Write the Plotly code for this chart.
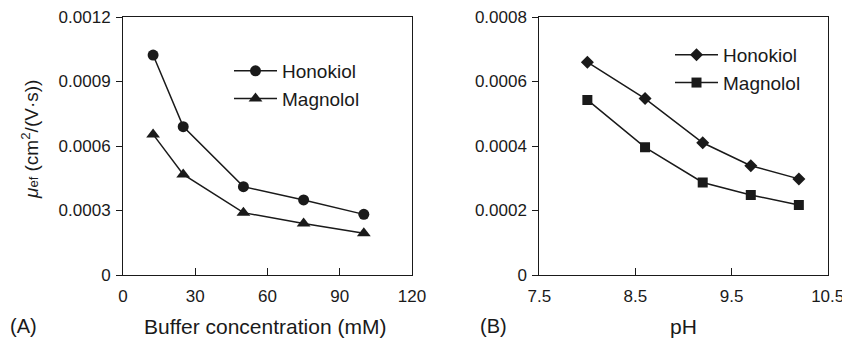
import plotly.graph_objects as go

# Panel A data
conc = [12.5, 25, 50, 75, 100]
honokiol_conc = [0.001023, 0.00069, 0.000411, 0.000349, 0.000282]
magnolol_conc = [0.000654, 0.000468, 0.00029, 0.00024, 0.000194]

# Panel B data
ph = [8.0, 8.6, 9.2, 9.7, 10.2]
honokiol_ph = [0.00066, 0.000547, 0.00041, 0.000339, 0.000298]
magnolol_ph = [0.000543, 0.000396, 0.000287, 0.000248, 0.000217]

xticks_a = [0, 30, 60, 90, 120]
yticks_a = [0, 0.0003, 0.0006, 0.0009, 0.0012]
yticklabels_a = ["0", "0.0003", "0.0006", "0.0009", "0.0012"]
xticks_b = [7.5, 8.5, 9.5, 10.5]
yticks_b = [0, 0.0002, 0.0004, 0.0006, 0.0008]
yticklabels_b = ["0", "0.0002", "0.0004", "0.0006", "0.0008"]

FONT = "Liberation Sans, Arial, sans-serif"
INK = "#1a1a1a"
OFF = 8  # default page body margin
W, H = 850 - OFF, 339 - OFF


def px(x):
    return (x - OFF) / W


def py(y):
    return 1 - (y - OFF) / H


fig = go.Figure()
line = dict(color=INK, width=1.5)
fig.add_trace(go.Scatter(x=conc, y=honokiol_conc, name="Honokiol", mode="lines+markers",
                         line=line, marker=dict(symbol="circle", size=11, color=INK),
                         xaxis="x", yaxis="y", legend="legend", legendgroup="a1"))
fig.add_trace(go.Scatter(x=conc, y=magnolol_conc, name="Magnolol", mode="lines+markers",
                         line=line, marker=dict(symbol="triangle-up", size=12, color=INK),
                         xaxis="x", yaxis="y", legend="legend", legendgroup="a2"))
fig.add_trace(go.Scatter(x=ph, y=honokiol_ph, name="Honokiol", mode="lines+markers",
                         line=line, marker=dict(symbol="diamond", size=10, color=INK),
                         xaxis="x2", yaxis="y2", legend="legend2", legendgroup="b1"))
fig.add_trace(go.Scatter(x=ph, y=magnolol_ph, name="Magnolol", mode="lines+markers",
                         line=line, marker=dict(symbol="square", size=10, color=INK),
                         xaxis="x2", yaxis="y2", legend="legend2", legendgroup="b2"))

ydom = [py(275), py(17)]
EPS = 1.00001  # keep top tick inside the range despite float rounding
common_x = dict(showline=True, linecolor=INK, linewidth=1, mirror=True, ticks="inside",
                ticklen=7, tickcolor=INK, showgrid=False, zeroline=False,
                ticklabelstandoff=6, ticklabeloverflow="allow",
                tickfont=dict(family=FONT, size=17, color=INK))
common_y = dict(showline=True, linecolor=INK, linewidth=1, mirror=True, ticks="outside",
                ticklen=6, tickcolor=INK, showgrid=False, zeroline=False,
                ticklabelstandoff=2, ticklabeloverflow="allow",
                tickfont=dict(family=FONT, size=17, color=INK))

legend_common = dict(xanchor="left", yanchor="top", bgcolor="rgba(0,0,0,0)",
                     font=dict(family=FONT, size=19, color=INK),
                     traceorder="grouped", tracegroupgap=0, itemwidth=43)

fig.update_layout(
    width=W, height=H,
    margin=dict(l=0, r=0, t=0, b=0, autoexpand=False),
    paper_bgcolor="white", plot_bgcolor="white",
    font=dict(family=FONT, size=16, color=INK),
    xaxis=dict(domain=[px(123), px(412)], range=[0, 120 * EPS], tickvals=xticks_a,
               anchor="y", **common_x),
    yaxis=dict(domain=ydom, range=[0, 0.0012 * EPS], tickvals=yticks_a, ticktext=yticklabels_a,
               anchor="x", **common_y),
    xaxis2=dict(domain=[px(539.3), px(827.7)], range=[7.5, 10.5 * EPS], tickvals=xticks_b,
                anchor="y2", **common_x),
    yaxis2=dict(domain=ydom, range=[0, 0.0008 * EPS], tickvals=yticks_b, ticktext=yticklabels_b,
                anchor="x2", **common_y),
    legend=dict(x=px(229), y=py(52), **legend_common),
    legend2=dict(x=px(670), y=py(36), **legend_common),
    showlegend=True,
    annotations=[
        dict(text="Buffer concentration (mM)", x=px(265), y=py(326), xref="paper", yref="paper",
             showarrow=False, xanchor="center", yanchor="middle", font=dict(size=21)),
        dict(text="pH", x=px(683), y=py(326), xref="paper", yref="paper",
             showarrow=False, xanchor="center", yanchor="middle", font=dict(size=21)),
        dict(text="(A)", x=px(8), y=py(326), xref="paper", yref="paper",
             showarrow=False, xanchor="left", yanchor="middle", font=dict(size=20)),
        dict(text="(B)", x=px(478), y=py(326), xref="paper", yref="paper",
             showarrow=False, xanchor="left", yanchor="middle", font=dict(size=20)),
        dict(text="<i>μ</i><span style='font-size:13px'>ef</span> (cm<sup>2</sup>/(V·s))",
             x=px(30), y=py(140), xref="paper", yref="paper", textangle=-90,
             showarrow=False, xanchor="center", yanchor="middle", font=dict(size=19)),
    ],
)

fig.write_html("out.html")
